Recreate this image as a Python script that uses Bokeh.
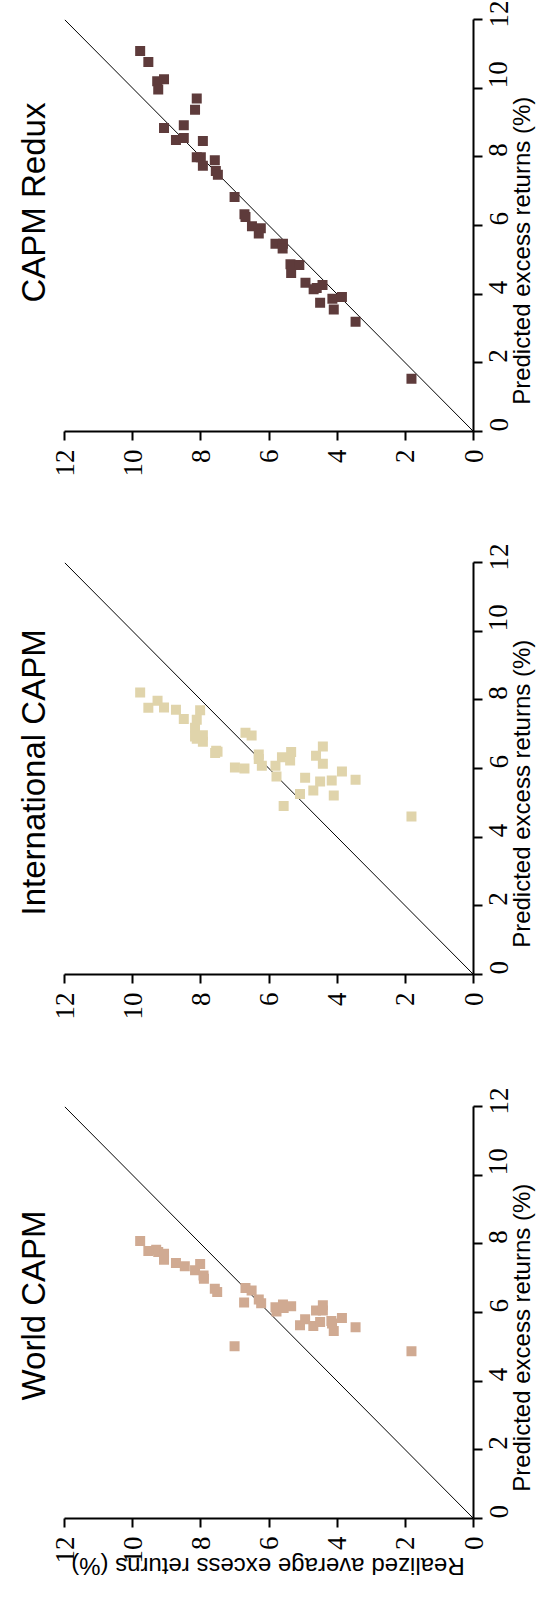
import math
from bokeh.plotting import figure
from bokeh.models import Range1d, FixedTicker, LinearAxis
from bokeh.layouts import column
from bokeh.embed import file_html
from bokeh.resources import INLINE

ticks = [0, 2, 4, 6, 8, 10, 12]
diag = [0, 12]
titles = ["CAPM Redux", "International CAPM", "World CAPM"]
colors = ["#5e3b3b", "#e0d4ab", "#d0aa92"]
x_label = "Realized average excess returns (%)"
y_label = "Predicted excess returns (%)"

redux_realized = [9.78, 9.54, 9.28, 9.08, 9.25, 8.12, 8.17, 9.08, 8.50, 8.73, 8.50, 7.94, 8.12, 8.00,
                  7.94, 7.59, 7.56, 7.50, 7.01, 6.72, 6.69, 6.50, 6.24, 6.30, 5.81, 5.59, 5.60, 5.37,
                  5.11, 5.35, 4.93, 4.69, 4.43, 4.60, 4.50, 4.14, 3.86, 4.10, 3.46, 1.82]
redux_predicted = [11.08, 10.76, 10.20, 10.26, 9.96, 9.70, 9.37, 8.84, 8.92, 8.49, 8.55, 8.46, 7.99, 7.99,
                   7.74, 7.90, 7.59, 7.48, 6.83, 6.33, 6.25, 5.98, 5.92, 5.77, 5.47, 5.47, 5.33, 4.87,
                   4.85, 4.62, 4.33, 4.14, 4.27, 4.18, 3.75, 3.87, 3.92, 3.55, 3.20, 1.54]

intl_realized = [9.78, 9.54, 9.27, 9.08, 8.73, 8.50, 8.02, 8.12, 8.17, 8.17, 7.94, 7.94, 8.12, 7.55,
                 7.51, 7.58, 7.00, 6.72, 6.69, 6.51, 6.30, 6.30, 6.21, 5.81, 5.78, 5.62, 5.35, 5.38,
                 5.57, 5.09, 4.94, 4.70, 4.50, 4.62, 4.42, 4.42, 4.16, 4.10, 3.86, 3.46, 1.82]
intl_predicted = [8.21, 7.77, 7.97, 7.78, 7.71, 7.44, 7.70, 7.42, 7.19, 6.93, 6.97, 6.78, 6.87, 6.52,
                  6.49, 6.45, 6.03, 6.00, 7.04, 6.96, 6.41, 6.28, 6.08, 6.08, 5.77, 6.33, 6.48, 6.23,
                  4.91, 5.26, 5.73, 5.36, 5.62, 6.37, 6.64, 6.14, 5.65, 5.21, 5.91, 5.67, 4.60]

world_realized = [9.78, 9.54, 9.31, 9.25, 9.08, 9.08, 8.73, 8.47, 8.17, 8.02, 7.92, 7.91, 7.59, 7.52,
                  7.01, 6.69, 6.51, 6.73, 6.30, 6.23, 5.81, 5.78, 5.59, 5.57, 5.35, 5.09, 4.94, 4.70,
                  4.62, 4.42, 4.42, 4.50, 4.17, 4.15, 4.10, 3.86, 3.46, 1.82]
world_predicted = [8.08, 7.79, 7.83, 7.76, 7.71, 7.54, 7.44, 7.35, 7.23, 7.41, 7.08, 6.98, 6.69, 6.60,
                   5.02, 6.71, 6.64, 6.29, 6.38, 6.27, 6.15, 6.03, 6.23, 6.13, 6.18, 5.63, 5.80, 5.61,
                   6.06, 6.21, 6.06, 5.72, 5.75, 5.68, 5.46, 5.84, 5.57, 4.87]

AXIS_PROPS = LinearAxis.properties()
NB = "\u00a0"


def make_panel(real, pred, color, title, title_offset, height, bottom_label=False):
    p = figure(width=551, height=height,
               x_range=Range1d(12, 0), y_range=Range1d(0, 12),
               y_axis_location="right", x_axis_location="below",
               title=title, title_location="left",
               output_backend="svg", toolbar_location=None,
               min_border_left=63, min_border_right=76, min_border_top=19,
               min_border_bottom=height - 19 - 412)
    p.outline_line_color = None
    p.grid.visible = False
    p.background_fill_color = "white"
    p.border_fill_color = "white"

    p.title.align = "left"
    p.title.offset = title_offset
    p.title.standoff = 25
    p.title.text_font = "Liberation Sans"
    p.title.text_font_size = "33px"
    p.title.text_font_style = "normal"
    p.title.text_color = "black"

    for ax in (p.xaxis, p.yaxis):
        ax.ticker = FixedTicker(ticks=ticks)
        ax.minor_tick_line_color = None
        ax.axis_line_width = 2
        ax.axis_line_color = "black"
        ax.major_tick_line_width = 2
        ax.major_tick_line_color = "black"
        ax.major_tick_out = 9
        ax.major_tick_in = 0
        ax.major_label_text_font = "Liberation Serif"
        ax.major_label_text_font_size = "27px"
        ax.major_label_text_color = "black"
        ax.major_label_orientation = math.pi / 2
        ax.axis_label_text_font = "Liberation Sans"
        ax.axis_label_text_font_size = "24px"
        ax.axis_label_text_font_style = "normal"
        ax.axis_label_text_color = "black"
    p.xaxis.major_label_standoff = 9
    p.yaxis.major_label_standoff = 16

    p.yaxis.axis_label = NB * 4 + y_label
    p.yaxis.axis_label_standoff = 2
    if "axis_label_orientation" in AXIS_PROPS:
        p.yaxis.axis_label_orientation = math.pi / 2
    if "axis_label_align" in AXIS_PROPS:
        p.yaxis.axis_label_align = "start"
    if bottom_label:
        p.xaxis.axis_label = x_label + NB
        p.xaxis.axis_label_standoff = 0
        if "axis_label_orientation" in AXIS_PROPS:
            p.xaxis.axis_label_orientation = math.pi
        if "axis_label_align" in AXIS_PROPS:
            p.xaxis.axis_label_align = "end"

    p.line(diag, diag, line_color="black", line_width=1)
    p.scatter(real, pred, marker="square", size=10, fill_color=color, line_color=None)
    return p


p1 = make_panel(redux_realized, redux_predicted, colors[0], titles[0], 129, 543)
p2 = make_panel(intl_realized, intl_predicted, colors[1], titles[1], 59, 544)
p3 = make_panel(world_realized, world_predicted, colors[2], titles[2], 118, 520, bottom_label=True)

layout = column(p1, p2, p3, spacing=0)
open("out.html", "w").write(file_html(layout, INLINE))
